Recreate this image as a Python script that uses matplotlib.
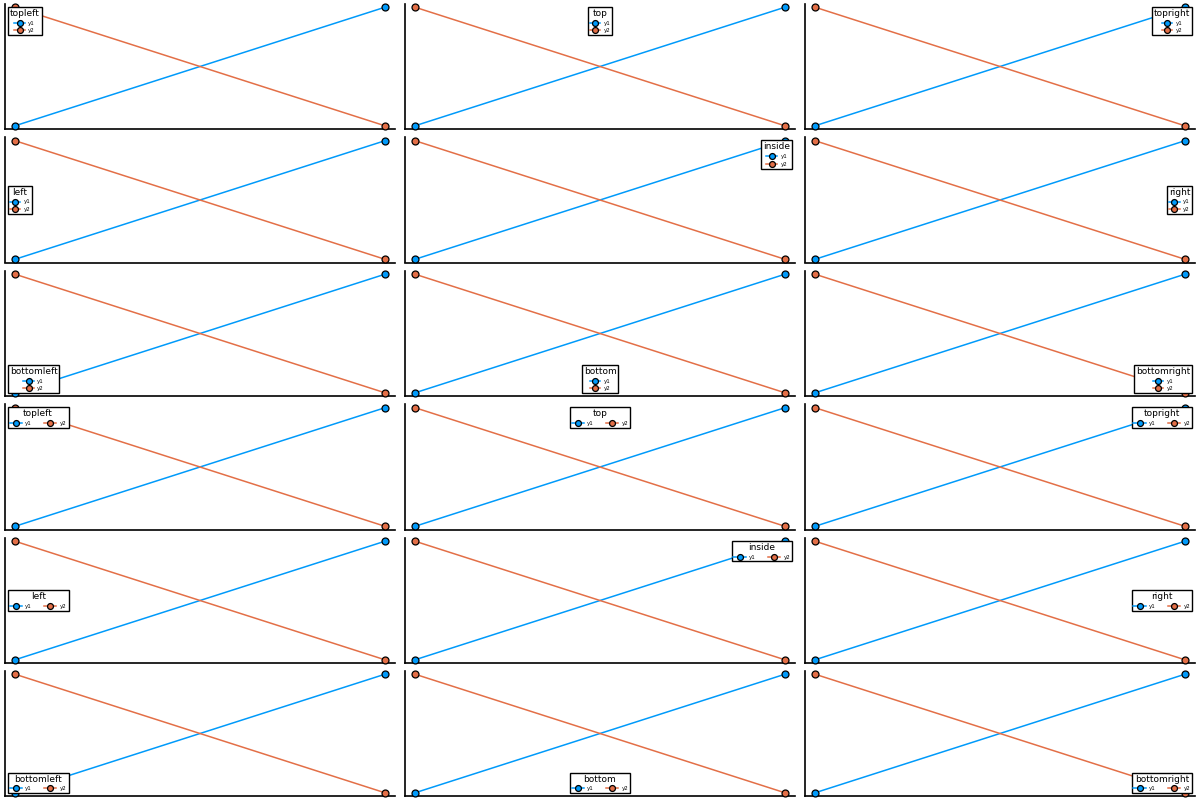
import matplotlib
matplotlib.use("Agg")
import matplotlib.pyplot as plt

x_vals = [1, 2]
y1_vals = [0, 1]
y2_vals = [1, 0]
series_labels = ["y1", "y2"]
series_colors = ["#009AFA", "#E36F47"]
positions = ["topleft", "top", "topright", "left", "inside", "right",
             "bottomleft", "bottom", "bottomright"]
loc_map = {"topleft": "upper left", "top": "upper center", "topright": "upper right",
           "left": "center left", "inside": "upper right", "right": "center right",
           "bottomleft": "lower left", "bottom": "lower center", "bottomright": "lower right"}

fig = plt.figure(figsize=(12, 8), dpi=100)
W, H = 1200, 800
col_left = [5, 405, 805]
ax_w = 390
row_bottom = [129, 262.5, 396, 529.5, 663, 796]
ax_h = 125

for r in range(6):
    for c in range(3):
        idx = (r % 3) * 3 + c
        pos = positions[idx]
        horizontal = r >= 3
        ax = fig.add_axes([col_left[c] / W, 1 - row_bottom[r] / H, ax_w / W, ax_h / H])
        for ys, lab, col in zip([y1_vals, y2_vals], series_labels, series_colors):
            ax.plot(x_vals, ys, color=col, lw=1.1, marker="o", ms=5,
                    mec="black", mew=0.9, mfc=col, label=lab, clip_on=False, zorder=3)
        m = 0.027
        ax.set_xlim(1 - m, 2 + m)
        ax.set_ylim(0 - m, 1 + m)
        ax.set_xticks([])
        ax.set_yticks([])
        for s in ["top", "right"]:
            ax.spines[s].set_visible(False)
        for s in ["left", "bottom"]:
            ax.spines[s].set_linewidth(1.2)
        leg = ax.legend(loc=loc_map[pos], title=pos, ncol=2 if horizontal else 1,
                        fontsize=4, title_fontsize=6.5, frameon=True, fancybox=False,
                        edgecolor="black", framealpha=1, borderpad=0.35,
                        handlelength=2.2 if horizontal else 1.9, handletextpad=0.6,
                        columnspacing=2.2, labelspacing=0.5, markerscale=0.85,
                        borderaxespad=0.5)
        leg.get_frame().set_linewidth(1.0)
        leg.set_zorder(5)

fig.savefig("out.png", dpi=100)
